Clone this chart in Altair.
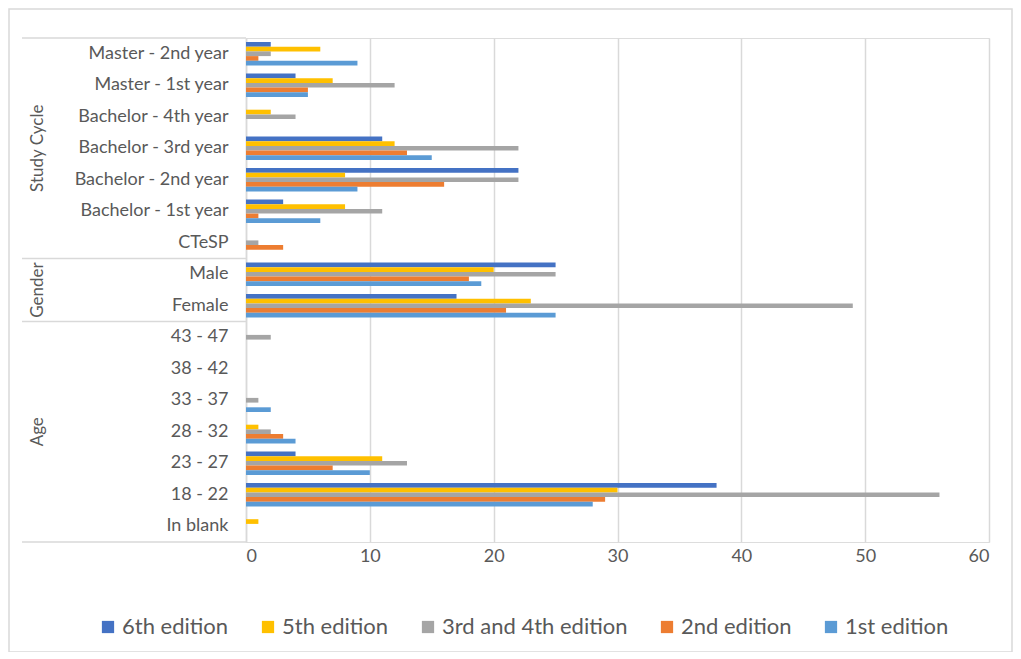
import altair as alt
import pandas as pd

categories = ["Master - 2nd year", "Master - 1st year", "Bachelor - 4th year",
              "Bachelor - 3rd year", "Bachelor - 2nd year", "Bachelor - 1st year",
              "CTeSP", "Male", "Female", "43 - 47", "38 - 42", "33 - 37",
              "28 - 32", "23 - 27", "18 - 22", "In blank"]
series = ["6th edition", "5th edition", "3rd and 4th edition", "2nd edition", "1st edition"]
colors = ["#4472C4", "#FFC000", "#A5A5A5", "#ED7D31", "#5B9BD5"]

ed6 = [2, 4, 0, 11, 22, 3, 0, 25, 17, 0, 0, 0, 0, 4, 38, 0]
ed5 = [6, 7, 2, 12, 8, 8, 0, 20, 23, 0, 0, 0, 1, 11, 30, 1]
ed34 = [2, 12, 4, 22, 22, 11, 1, 25, 49, 2, 0, 1, 2, 13, 56, 0]
ed2 = [1, 5, 0, 13, 16, 1, 3, 18, 21, 0, 0, 0, 3, 7, 29, 0]
ed1 = [9, 5, 0, 15, 9, 6, 0, 19, 25, 0, 0, 2, 4, 10, 28, 0]

group_names_mid = ["Study Cycle", "Age"]
group_anchor_mid = ["Bachelor - 3rd year", "28 - 32"]
group_names_edge = ["Gender"]
group_anchor_edge = ["Female"]
separator_tops = ["Master - 2nd year", "Male", "43 - 47"]
separator_bottom = ["In blank"]

rows = []
for s, vals in zip(series, [ed6, ed5, ed34, ed2, ed1]):
    for c, v in zip(categories, vals):
        rows.append({"category": c, "series": s, "value": v})
df = pd.DataFrame(rows)

FONT = "Lato"
GRAY = "#d9d9d9"
TXT = "#595959"

yscale = alt.Scale(domain=categories, paddingInner=0, paddingOuter=0)
yaxis = alt.Axis(title=None, ticks=False, domainColor=GRAY, domainWidth=1.5,
                 labelFontSize=18, labelColor=TXT, labelPadding=18, labelFont=FONT,
                 grid=False, labelLimit=300)

bars = alt.Chart(df).mark_bar().encode(
    x=alt.X("value:Q",
            scale=alt.Scale(domain=[0, 60], nice=False),
            axis=alt.Axis(values=[0, 10, 20, 30, 40, 50, 60], grid=True, gridColor=GRAY,
                          gridWidth=1.5, domain=False, ticks=False, labelFontSize=18,
                          labelColor=TXT, labelPadding=5, title=None, labelFont=FONT)),
    y=alt.Y("category:N", sort=categories, scale=yscale, axis=yaxis),
    yOffset=alt.YOffset("series:N", sort=series,
                        scale=alt.Scale(domain=series, paddingInner=0, paddingOuter=0.85)),
    color=alt.Color("series:N", sort=series,
                    scale=alt.Scale(domain=series, range=colors),
                    legend=alt.Legend(title=None, orient="none", direction="horizontal",
                                      legendX=-149, legendY=578, symbolType="square",
                                      symbolSize=150, symbolStrokeWidth=0,
                                      labelFontSize=22, labelColor=TXT, labelFont=FONT,
                                      columnPadding=28, labelOffset=3, labelLimit=400)),
)

df_mid = pd.DataFrame({"name": group_names_mid, "category": group_anchor_mid})
df_edge = pd.DataFrame({"name": group_names_edge, "category": group_anchor_edge})

lab_mid = alt.Chart(df_mid).mark_text(angle=270, fontSize=17, color=TXT, font=FONT,
                                      align="center", baseline="middle").encode(
    x=alt.value(-208),
    y=alt.Y("category:N", sort=categories, scale=yscale, axis=yaxis, bandPosition=0.5),
    text="name:N")
lab_edge = alt.Chart(df_edge).mark_text(angle=270, fontSize=17, color=TXT, font=FONT,
                                        align="center", baseline="middle").encode(
    x=alt.value(-208),
    y=alt.Y("category:N", sort=categories, scale=yscale, axis=yaxis, bandPosition=0),
    text="name:N")

df_sep_top = pd.DataFrame({"category": separator_tops})
df_sep_bot = pd.DataFrame({"category": separator_bottom})
sep_top = alt.Chart(df_sep_top).mark_rule(color=GRAY, strokeWidth=1.5).encode(
    x=alt.value(-224), x2=alt.value(0),
    y=alt.Y("category:N", sort=categories, scale=yscale, axis=yaxis, bandPosition=0))
sep_bot = alt.Chart(df_sep_bot).mark_rule(color=GRAY, strokeWidth=1.5).encode(
    x=alt.value(-224), x2=alt.value(0),
    y=alt.Y("category:N", sort=categories, scale=yscale, axis=yaxis, bandPosition=1))

border = alt.Chart(pd.DataFrame({"k": [0]})).mark_rect(
    fillOpacity=0, stroke=GRAY, strokeWidth=1.5).encode(
    x=alt.value(-237), x2=alt.value(766), y=alt.value(-29), y2=alt.value(614))

chart = alt.layer(bars, lab_mid, lab_edge, sep_top, sep_bot, border).properties(
    width=743, height=504,
    autosize=alt.AutoSizeParams(type="none"),
    padding={"left": 238, "top": 30, "right": 24, "bottom": 110},
).configure_view(stroke=None).configure(font=FONT)

chart.save("out.html", embed_options={"renderer": "svg", "actions": False})
